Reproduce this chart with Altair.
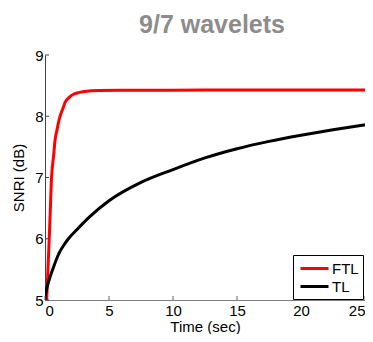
import altair as alt
import pandas as pd

ftl_x = [0.13, 0.2, 0.27, 0.33, 0.42, 0.5, 0.58, 0.67, 0.78, 0.93, 1.08, 1.24, 1.42, 1.58, 1.85, 2.22, 2.7, 3.26, 4.17, 6, 8, 10, 15, 20, 25]
ftl_y = [5.0, 5.35, 5.7, 6.0, 6.5, 6.95, 7.18, 7.35, 7.6, 7.77, 7.92, 8.04, 8.14, 8.23, 8.3, 8.36, 8.39, 8.41, 8.42, 8.425, 8.425, 8.425, 8.43, 8.43, 8.43]
tl_x = [0, 0.05, 0.2, 0.4, 0.62, 0.85, 1.11, 1.45, 1.83, 2.5, 3.5, 5, 7.5, 10, 12.5, 15, 17.5, 20, 22.5, 25]
tl_y = [5.0, 5.1, 5.24, 5.38, 5.51, 5.64, 5.77, 5.89, 6.0, 6.15, 6.36, 6.62, 6.92, 7.13, 7.32, 7.47, 7.59, 7.69, 7.78, 7.86]
x_ticks = [0, 5, 10, 15, 20, 25]
y_ticks = [5, 6, 7, 8, 9]

df = pd.concat([
    pd.DataFrame({"t": ftl_x, "v": ftl_y, "s": "FTL"}),
    pd.DataFrame({"t": tl_x, "v": tl_y, "s": "TL"}),
])

W, H = 320, 245
xs = alt.Scale(domain=[0, 25], nice=False)
ys = alt.Scale(domain=[5, 9], nice=False)

lines = alt.Chart(df).mark_line(strokeWidth=3, clip=True, interpolate="monotone").encode(
    x=alt.X("t:Q", scale=xs, title="Time (sec)",
            axis=alt.Axis(values=x_ticks, ticks=False, grid=False, domainColor="#808080",
                          labelPadding=3, titlePadding=1, format="d")),
    y=alt.Y("v:Q", scale=ys, title="SNRI (dB)",
            axis=alt.Axis(values=y_ticks, ticks=False, grid=False, domainColor="#444444",
                          labelPadding=2, titlePadding=8, format="d")),
    color=alt.Color("s:N", scale=alt.Scale(domain=["FTL", "TL"], range=["#ff0000", "#000000"]),
                    legend=alt.Legend(title=None, orient="none", legendX=248, legendY=200,
                                      strokeColor="#000000", fillColor="white", padding=4,
                                      symbolType="M-1.75,0H1.75", symbolStrokeWidth=3, symbolSize=256,
                                      symbolOffset=8,
                                      labelFontSize=15, labelFont="Liberation Sans",
                                      rowPadding=0, labelOffset=8)),
)

xt = alt.Chart(pd.DataFrame({"t": x_ticks})).mark_rule(color="#606060").encode(
    x=alt.X("t:Q", scale=xs), y=alt.value(H), y2=alt.value(H - 4))
yt = alt.Chart(pd.DataFrame({"v": y_ticks})).mark_rule(color="#404040").encode(
    y=alt.Y("v:Q", scale=ys), x=alt.value(0), x2=alt.value(4))

chart = alt.layer(lines, xt, yt).properties(
    width=W, height=H,
    title=alt.Title("9/7 wavelets", fontSize=25, fontWeight="bold", color="#8c8c8c",
                    font="Liberation Sans", anchor="middle", dx=7, offset=10),
    autosize=alt.AutoSizeParams(type="none"),
    padding={"left": 37, "top": 47, "right": 0, "bottom": 34},
).configure_axis(
    labelFont="Liberation Sans", titleFont="Liberation Sans", labelFontSize=15,
    titleFontSize=15, titleFontWeight="normal", labelColor="#000000", titleColor="#000000",
).configure_view(stroke=None)

chart.save("out.html", embed_options={"renderer": "svg", "actions": False})
